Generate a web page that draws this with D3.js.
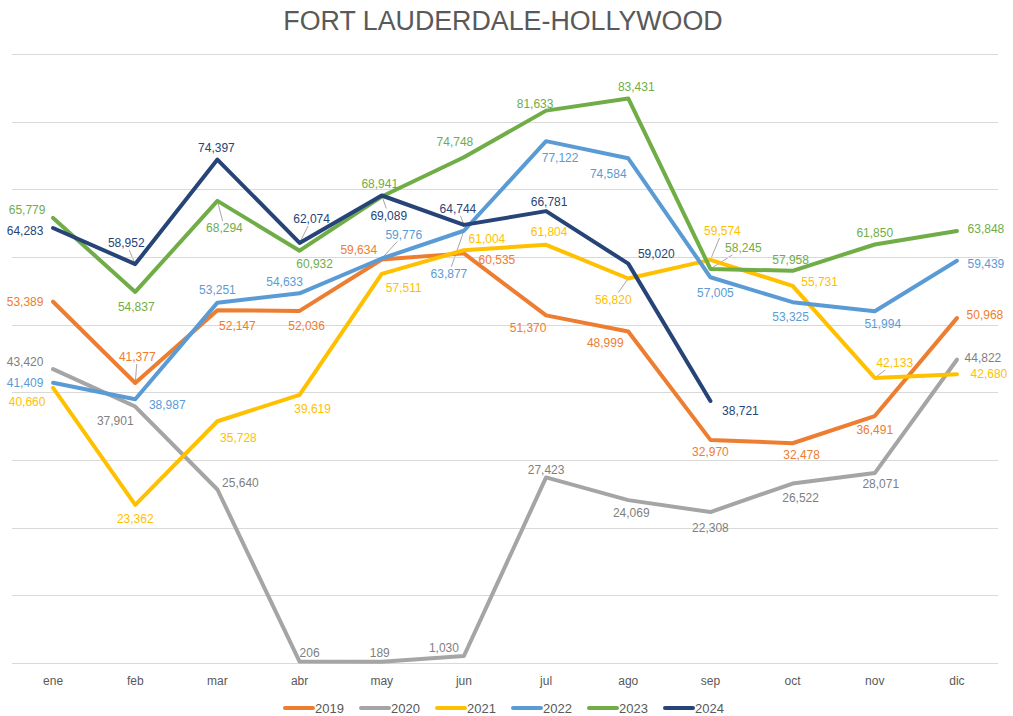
<!DOCTYPE html>
<html>
<head>
<meta charset="utf-8">
<script src="https://cdn.jsdelivr.net/npm/d3@7"></script>
<style>
  body { margin: 0; background: #fff; }
  text { font-family: "Liberation Sans", Arial, sans-serif; }
</style>
</head>
<body>
<script>
const months = ["ene", "feb", "mar", "abr", "may", "jun", "jul", "ago", "sep", "oct", "nov", "dic"];
const years = ["2019", "2020", "2021", "2022", "2023", "2024"];
const s2019 = [53389, 41377, 52147, 52036, 59634, 60535, 51370, 48999, 32970, 32478, 36491, 50968];
const s2020 = [43420, 37901, 25640, 206, 189, 1030, 27423, 24069, 22308, 26522, 28071, 44822];
const s2021 = [40660, 23362, 35728, 39619, 57511, 61004, 61804, 56820, 59574, 55731, 42133, 42680];
const s2022 = [41409, 38987, 53251, 54633, 59776, 63877, 77122, 74584, 57005, 53325, 51994, 59439];
const s2023 = [65779, 54837, 68294, 60932, 68941, 74748, 81633, 83431, 58245, 57958, 61850, 63848];
const s2024 = [64283, 58952, 74397, 62074, 69089, 64744, 66781, 59020, 38721];
const yTicks = [0, 10000, 20000, 30000, 40000, 50000, 60000, 70000, 80000, 90000];

// label placement: [dx, dy, leader]
const offsets = [
  [[-28,0],[2,-26,1],[20,16],[7,15],[-23,-10],[33,6],[-18,12],[-23,11],[0,12],[9,12],[0,14],[28,-3]],
  [[-28,-7],[-20,14],[23,-7],[10,-9],[-2,-9],[-20,-8],[0,-8],[3,13],[0,16],[8,14],[6,11],[26,-2]],
  [[-26,14],[0,14],[21,17],[13,14],[22,14],[23,-11],[3,-13],[-15,21,1],[12,-29,1],[27,-4],[20,-15,1],[32,0]],
  [[-28,0],[32,6],[0,-13],[-15,-12],[22,-24,1],[-15,43,1],[14,17],[-20,15],[5,16],[-2,15],[8,13],[29,3]],
  [[-26,-8],[1,15],[7,27,1],[15,13],[-2,-13],[-9,-15],[-11,-7],[8,-12],[33,-21,1],[-2,-11],[0,-12],[29,-2]],
  [[-28,3],[-9,-21,1],[-1,-12],[12,-24,1],[7,20,1],[-6,-16,1],[3,-9],[28,-10],[30,10]]
];

const colors = ["#ED7D31", "#A5A5A5", "#FFC000", "#5B9BD5", "#70AD47", "#264478"];
const labelColors = ["#ED7D31", "#7F7F7F", "#FFC000", "#5B9BD5", "#70AD47", "#264478"];
const series = [s2019, s2020, s2021, s2022, s2023, s2024];

const width = 1013, height = 716;
const svg = d3.select("body").append("svg")
  .attr("width", width)
  .attr("height", height);

const x = d3.scaleBand().domain(months).range([12, 998]);
const y = d3.scaleLinear().domain([0, 90000]).range([663, 54]);
const cx = m => x(m) + x.bandwidth() / 2;
const fmt = d3.format(",");

svg.append("text")
  .attr("x", 503)
  .attr("y", 30)
  .attr("text-anchor", "middle")
  .attr("fill", "#595959")
  .style("font-size", "26.8px")
  .text("FORT LAUDERDALE-HOLLYWOOD");

svg.selectAll(".grid")
  .data(yTicks)
  .join("line")
  .attr("x1", 12)
  .attr("x2", 998)
  .attr("y1", d => Math.round(y(d)) + 0.5)
  .attr("y2", d => Math.round(y(d)) + 0.5)
  .attr("stroke", "#d9d9d9")
  .attr("stroke-width", 1);

svg.selectAll(".xlab")
  .data(months)
  .join("text")
  .attr("x", d => cx(d))
  .attr("y", 681)
  .attr("dy", "0.35em")
  .attr("text-anchor", "middle")
  .attr("fill", "#595959")
  .style("font-size", "12px")
  .text(d => d);

let line = d3.line()
  .x((d, i) => cx(months[i]))
  .y(d => y(d));

svg.selectAll(".series")
  .data(series)
  .join("path")
  .attr("d", d => line(d))
  .attr("fill", "none")
  .attr("stroke", (d, i) => colors[i])
  .attr("stroke-width", 4)
  .attr("stroke-linejoin", "round")
  .attr("stroke-linecap", "round");

// data labels with leader lines
series.forEach((s, si) => {
  s.forEach((v, i) => {
    const px = cx(months[i]), py = y(v);
    const [dx, dy, leader] = offsets[si][i];
    const lx = px + dx, ly = py + dy;
    const t = svg.append("text")
      .attr("x", lx)
      .attr("y", ly)
      .attr("dy", "0.35em")
      .attr("text-anchor", "middle")
      .attr("fill", labelColors[si])
      .style("font-size", "12px")
      .text(fmt(v));
    if (leader) {
      const hw = t.node().getComputedTextLength() / 2 + 1, hh = 7;
      // clip the segment from label centre to point at the label box
      const k = Math.min(Math.abs(dx) > 0 ? hw / Math.abs(dx) : Infinity, Math.abs(dy) > 0 ? hh / Math.abs(dy) : Infinity);
      const ex = lx - dx * k, ey = ly - dy * k;
      svg.insert("line", "text")
        .attr("x1", px).attr("y1", py)
        .attr("x2", ex).attr("y2", ey)
        .attr("stroke", "#a6a6a6")
        .attr("stroke-width", 1);
    }
  });
});

// legend
const legend = svg.selectAll(".legend")
  .data(years)
  .join("g")
  .attr("transform", (d, i) => `translate(${283 + i * 76},708)`);
legend.append("line")
  .attr("x1", 2).attr("x2", 30)
  .attr("stroke", (d, i) => colors[i])
  .attr("stroke-width", 4)
  .attr("stroke-linecap", "round");
legend.append("text")
  .attr("x", 32)
  .attr("dy", "0.35em")
  .attr("fill", "#595959")
  .style("font-size", "13px")
  .text(d => d);
</script>
</body>
</html>
